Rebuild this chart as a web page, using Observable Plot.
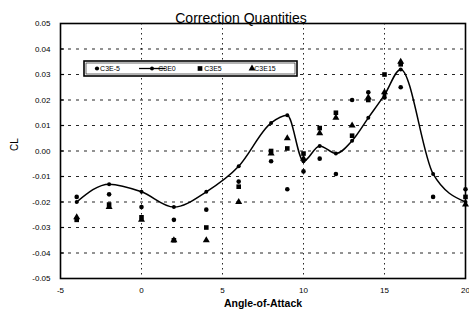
<!DOCTYPE html>
<html>
<head>
<meta charset="utf-8">
<script src="https://cdn.jsdelivr.net/npm/d3@7"></script>
<script src="https://cdn.jsdelivr.net/npm/@observablehq/plot@0.6"></script>
<style>
  html, body { margin: 0; padding: 0; background: white; }
  #chart { position: relative; width: 469px; height: 311px; }
</style>
</head>
<body>
<div id="chart"></div>
<script>
const title = "Correction Quantities";
const xLabel = "Angle-of-Attack";
const yLabel = "CL";
const seriesNames = ["C3E-5", "C3E0", "C3E5", "C3E15"];
const angles = [-4, -2, 0, 2, 4, 6, 8, 9, 10, 11, 12, 13, 14, 15, 16, 18, 20];
const c3eM5 = [-0.018, -0.017, -0.022, -0.027, -0.023, -0.012, -0.004, -0.015, -0.008, -0.003, -0.009, 0.020, 0.023, 0.021, 0.025, -0.018, -0.015];
const c3e0  = [-0.020, -0.013, -0.016, -0.022, -0.016, -0.006, 0.011, 0.014, -0.004, 0.002, -0.001, 0.004, 0.013, 0.022, 0.032, -0.009, -0.020];
const c3e5  = [-0.027, -0.021, -0.026, -0.035, -0.030, -0.014, 0.000, 0.001, -0.001, 0.009, 0.015, 0.006, 0.020, 0.030, 0.034, null, -0.018];
const c3e15 = [-0.026, -0.022, -0.027, -0.035, -0.035, -0.020, -0.001, 0.005, -0.003, 0.007, 0.013, 0.010, 0.021, 0.023, 0.035, null, -0.021];
const xTicks = [-5, 0, 5, 10, 15, 20];
const xGrid = [0, 5, 10, 15];
const yTicks = [-0.05, -0.04, -0.03, -0.02, -0.01, 0, 0.01, 0.02, 0.03, 0.04, 0.05];
const yGrid = [-0.04, -0.03, -0.02, -0.01, 0, 0.01, 0.02, 0.03, 0.04];

const rows = (vals) => angles.map((a, i) => ({x: a, y: vals[i]})).filter(d => d.y != null);

const chart = Plot.plot({
  width: 469,
  height: 311,
  marginLeft: 60,
  marginRight: 4,
  marginTop: 23,
  marginBottom: 33,
  x: {domain: [-5, 20]},
  y: {domain: [-0.05, 0.05]},
  style: {fontFamily: "'Liberation Sans', Arial, sans-serif", fontSize: "8px", background: "white", color: "black", overflow: "visible"},
  marks: [
    Plot.gridY(yGrid, {stroke: "black", strokeOpacity: 0.85, strokeWidth: 1.2, strokeDasharray: "3,5"}),
    Plot.gridX(xGrid, {stroke: "black", strokeOpacity: 0.85, strokeWidth: 1, strokeDasharray: "1.5,3.5"}),
    Plot.axisX({ticks: xTicks, tickFormat: d => String(d), tickSize: 0, tickPadding: 9, label: null}),
    Plot.axisY({ticks: yTicks, tickFormat: d => d.toFixed(2), tickSize: 0, tickPadding: 10, label: null}),
    Plot.ruleY(yGrid, {x1: -5, x2: -4.75, stroke: "black", strokeWidth: 1.2}),
    Plot.frame({stroke: "black", strokeWidth: 1.6}),
    Plot.line(rows(c3e0), {x: "x", y: "y", curve: "monotone-x", stroke: "black", strokeWidth: 1.5}),
    Plot.dot(rows(c3e0), {x: "x", y: "y", r: 2, fill: "black"}),
    Plot.dot(rows(c3eM5), {x: "x", y: "y", r: 2.3, fill: "black", symbol: "circle"}),
    Plot.dot(rows(c3e5), {x: "x", y: "y", r: 2.6, fill: "black", symbol: "square"}),
    Plot.dot(rows(c3e15), {x: "x", y: "y", r: 2.6, fill: "black", symbol: "triangle"}),
    Plot.text([title], {frameAnchor: "top", text: d => d, dx: -22, dy: -1, lineAnchor: "bottom", fontSize: 14, fill: "black"}),
    Plot.text([xLabel], {frameAnchor: "bottom", text: d => d, dy: 28, fontSize: 10.5, fontWeight: "bold", fill: "black"}),
    Plot.text([yLabel], {frameAnchor: "left", text: d => d, dx: -46, rotate: -90, fontSize: 10, fill: "black"})
  ]
});
document.getElementById("chart").appendChild(chart);

// Legend box inside the plot area
const svg = d3.select(chart);
const lg = svg.append("g").attr("font-family", "'Liberation Sans', Arial, sans-serif").attr("font-size", 7);
lg.append("rect").attr("x", 84).attr("y", 61).attr("width", 213).attr("height", 15).attr("fill", "white").attr("stroke", "black").attr("stroke-width", 1.6);
lg.append("rect").attr("x", 86).attr("y", 63).attr("width", 209).attr("height", 11).attr("fill", "none").attr("stroke", "black").attr("stroke-width", 0.6);
const ly = 68.5;
const items = [
  {sym: d3.symbolCircle, x: 97, tx: 110, line: false, size: 14},
  {sym: d3.symbolCircle, x: 152, tx: 167, line: true, size: 12},
  {sym: d3.symbolSquare, x: 200, tx: 213, line: false, size: 22},
  {sym: d3.symbolTriangle, x: 252, tx: 265, line: false, size: 20}
];
items.forEach((it, i) => {
  if (it.line) {
    lg.append("line").attr("x1", 139).attr("x2", 165).attr("y1", ly).attr("y2", ly).attr("stroke", "black").attr("stroke-width", 1.3);
  }
  lg.append("path").attr("d", d3.symbol(it.sym, it.size)()).attr("transform", `translate(${it.x},${ly})`).attr("fill", "black");
  lg.append("text").attr("x", it.tx).attr("y", ly).attr("dy", "0.35em").attr("fill", "black").text(seriesNames[i]);
});
</script>
</body>
</html>
